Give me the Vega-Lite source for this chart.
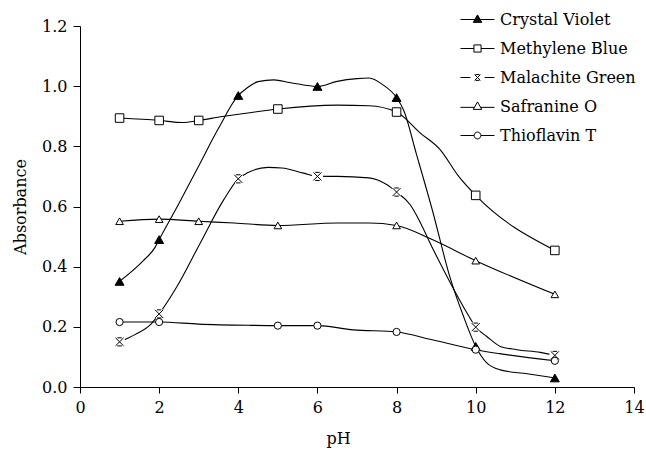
{
  "$schema": "https://vega.github.io/schema/vega-lite/v6.json",
  "width": 554,
  "height": 361,
  "autosize": {"type": "none"},
  "padding": {"left": 80, "top": 26, "right": 12, "bottom": 63},
  "background": "white",
  "config": {
    "view": {"stroke": null},
    "font": "DejaVu Serif",
    "axis": {
      "labelFont": "DejaVu Serif", "labelFontSize": 16, "labelColor": "black",
      "titleFont": "DejaVu Serif", "titleFontSize": 16, "titleFontWeight": "normal", "titleColor": "black",
      "domainColor": "black", "tickColor": "black", "grid": false, "domainWidth": 1, "tickWidth": 1
    },
    "legend": {
      "labelFont": "DejaVu Serif", "labelFontSize": 16, "labelColor": "black", "labelLimit": 300,
      "symbolStrokeColor": "black", "symbolStrokeWidth": 1, "symbolSize": 1156,
      "labelOffset": 5, "rowPadding": 3, "padding": 0
    }
  },
  "datasets": {
    "d": [
      {"dye": "Crystal Violet", "pH": 1, "A": 0.351, "m": 1},
      {"dye": "Crystal Violet", "pH": 1.6, "A": 0.42, "m": 0},
      {"dye": "Crystal Violet", "pH": 1.9, "A": 0.465, "m": 0},
      {"dye": "Crystal Violet", "pH": 2, "A": 0.49, "m": 1},
      {"dye": "Crystal Violet", "pH": 2.5, "A": 0.61, "m": 0},
      {"dye": "Crystal Violet", "pH": 3, "A": 0.735, "m": 0},
      {"dye": "Crystal Violet", "pH": 3.5, "A": 0.86, "m": 0},
      {"dye": "Crystal Violet", "pH": 4, "A": 0.969, "m": 1},
      {"dye": "Crystal Violet", "pH": 4.22, "A": 0.994, "m": 0},
      {"dye": "Crystal Violet", "pH": 4.5, "A": 1.015, "m": 0},
      {"dye": "Crystal Violet", "pH": 4.9, "A": 1.021, "m": 0},
      {"dye": "Crystal Violet", "pH": 5.3, "A": 1.012, "m": 0},
      {"dye": "Crystal Violet", "pH": 5.7, "A": 1.003, "m": 0},
      {"dye": "Crystal Violet", "pH": 6, "A": 0.999, "m": 1},
      {"dye": "Crystal Violet", "pH": 6.5, "A": 1.016, "m": 0},
      {"dye": "Crystal Violet", "pH": 7, "A": 1.025, "m": 0},
      {"dye": "Crystal Violet", "pH": 7.3, "A": 1.027, "m": 0},
      {"dye": "Crystal Violet", "pH": 7.65, "A": 1.005, "m": 0},
      {"dye": "Crystal Violet", "pH": 8, "A": 0.962, "m": 1},
      {"dye": "Crystal Violet", "pH": 8.18, "A": 0.92, "m": 0},
      {"dye": "Crystal Violet", "pH": 8.5, "A": 0.775, "m": 0},
      {"dye": "Crystal Violet", "pH": 8.9, "A": 0.59, "m": 0},
      {"dye": "Crystal Violet", "pH": 9.36, "A": 0.36, "m": 0},
      {"dye": "Crystal Violet", "pH": 9.69, "A": 0.235, "m": 0},
      {"dye": "Crystal Violet", "pH": 10, "A": 0.135, "m": 1},
      {"dye": "Crystal Violet", "pH": 10.28, "A": 0.08, "m": 0},
      {"dye": "Crystal Violet", "pH": 10.62, "A": 0.057, "m": 0},
      {"dye": "Crystal Violet", "pH": 11.3, "A": 0.044, "m": 0},
      {"dye": "Crystal Violet", "pH": 12, "A": 0.03, "m": 1},

      {"dye": "Methylene Blue", "pH": 1, "A": 0.894, "m": 1},
      {"dye": "Methylene Blue", "pH": 2, "A": 0.886, "m": 1},
      {"dye": "Methylene Blue", "pH": 2.6, "A": 0.879, "m": 0},
      {"dye": "Methylene Blue", "pH": 3, "A": 0.886, "m": 1},
      {"dye": "Methylene Blue", "pH": 3.6, "A": 0.899, "m": 0},
      {"dye": "Methylene Blue", "pH": 4.2, "A": 0.91, "m": 0},
      {"dye": "Methylene Blue", "pH": 5, "A": 0.924, "m": 1},
      {"dye": "Methylene Blue", "pH": 6.5, "A": 0.937, "m": 0},
      {"dye": "Methylene Blue", "pH": 7.3, "A": 0.935, "m": 0},
      {"dye": "Methylene Blue", "pH": 8, "A": 0.914, "m": 1},
      {"dye": "Methylene Blue", "pH": 8.6, "A": 0.844, "m": 0},
      {"dye": "Methylene Blue", "pH": 9.1, "A": 0.789, "m": 0},
      {"dye": "Methylene Blue", "pH": 9.57, "A": 0.7, "m": 0},
      {"dye": "Methylene Blue", "pH": 10, "A": 0.637, "m": 1},
      {"dye": "Methylene Blue", "pH": 12, "A": 0.454, "m": 1},

      {"dye": "Malachite Green", "pH": 1, "A": 0.15, "m": 1},
      {"dye": "Malachite Green", "pH": 1.4, "A": 0.175, "m": 0},
      {"dye": "Malachite Green", "pH": 1.8, "A": 0.21, "m": 0},
      {"dye": "Malachite Green", "pH": 2, "A": 0.243, "m": 1},
      {"dye": "Malachite Green", "pH": 2.45, "A": 0.334, "m": 0},
      {"dye": "Malachite Green", "pH": 3.04, "A": 0.479, "m": 0},
      {"dye": "Malachite Green", "pH": 3.63, "A": 0.622, "m": 0},
      {"dye": "Malachite Green", "pH": 4, "A": 0.692, "m": 1},
      {"dye": "Malachite Green", "pH": 4.22, "A": 0.711, "m": 0},
      {"dye": "Malachite Green", "pH": 4.75, "A": 0.73, "m": 0},
      {"dye": "Malachite Green", "pH": 5.1, "A": 0.728, "m": 0},
      {"dye": "Malachite Green", "pH": 5.65, "A": 0.711, "m": 0},
      {"dye": "Malachite Green", "pH": 6, "A": 0.7, "m": 1},
      {"dye": "Malachite Green", "pH": 6.5, "A": 0.7, "m": 0},
      {"dye": "Malachite Green", "pH": 7.3, "A": 0.695, "m": 0},
      {"dye": "Malachite Green", "pH": 7.76, "A": 0.672, "m": 0},
      {"dye": "Malachite Green", "pH": 8, "A": 0.648, "m": 1},
      {"dye": "Malachite Green", "pH": 8.35, "A": 0.605, "m": 0},
      {"dye": "Malachite Green", "pH": 8.52, "A": 0.567, "m": 0},
      {"dye": "Malachite Green", "pH": 8.93, "A": 0.456, "m": 0},
      {"dye": "Malachite Green", "pH": 9.36, "A": 0.346, "m": 0},
      {"dye": "Malachite Green", "pH": 9.78, "A": 0.246, "m": 0},
      {"dye": "Malachite Green", "pH": 10, "A": 0.199, "m": 1},
      {"dye": "Malachite Green", "pH": 10.28, "A": 0.168, "m": 0},
      {"dye": "Malachite Green", "pH": 10.62, "A": 0.135, "m": 0},
      {"dye": "Malachite Green", "pH": 11.04, "A": 0.124, "m": 0},
      {"dye": "Malachite Green", "pH": 11.63, "A": 0.115, "m": 0},
      {"dye": "Malachite Green", "pH": 12, "A": 0.105, "m": 1},

      {"dye": "Safranine O", "pH": 1, "A": 0.551, "m": 1},
      {"dye": "Safranine O", "pH": 2, "A": 0.558, "m": 1},
      {"dye": "Safranine O", "pH": 3, "A": 0.551, "m": 1},
      {"dye": "Safranine O", "pH": 3.9, "A": 0.545, "m": 0},
      {"dye": "Safranine O", "pH": 5, "A": 0.537, "m": 1},
      {"dye": "Safranine O", "pH": 6.5, "A": 0.545, "m": 0},
      {"dye": "Safranine O", "pH": 7.3, "A": 0.545, "m": 0},
      {"dye": "Safranine O", "pH": 8, "A": 0.537, "m": 1},
      {"dye": "Safranine O", "pH": 8.9, "A": 0.49, "m": 0},
      {"dye": "Safranine O", "pH": 10, "A": 0.42, "m": 1},
      {"dye": "Safranine O", "pH": 12, "A": 0.308, "m": 1},

      {"dye": "Thioflavin T", "pH": 1, "A": 0.216, "m": 1},
      {"dye": "Thioflavin T", "pH": 2, "A": 0.216, "m": 1},
      {"dye": "Thioflavin T", "pH": 3, "A": 0.209, "m": 0},
      {"dye": "Thioflavin T", "pH": 4.3, "A": 0.205, "m": 0},
      {"dye": "Thioflavin T", "pH": 5, "A": 0.204, "m": 1},
      {"dye": "Thioflavin T", "pH": 6, "A": 0.204, "m": 1},
      {"dye": "Thioflavin T", "pH": 6.9, "A": 0.19, "m": 0},
      {"dye": "Thioflavin T", "pH": 8, "A": 0.183, "m": 1},
      {"dye": "Thioflavin T", "pH": 8.9, "A": 0.157, "m": 0},
      {"dye": "Thioflavin T", "pH": 10, "A": 0.124, "m": 1},
      {"dye": "Thioflavin T", "pH": 10.6, "A": 0.111, "m": 0},
      {"dye": "Thioflavin T", "pH": 12, "A": 0.087, "m": 1}
    ]
  },
  "data": {"name": "d"},
  "encoding": {
    "x": {
      "field": "pH", "type": "quantitative",
      "scale": {"domain": [0, 14], "nice": false},
      "axis": {"title": "pH", "values": [0, 2, 4, 6, 8, 10, 12, 14], "tickSize": 6, "labelPadding": 6,
               "labelFlush": false, "labelOverlap": false, "titleX": 258, "titleY": 56, "titleBaseline": "alphabetic"}
    },
    "y": {
      "field": "A", "type": "quantitative",
      "scale": {"domain": [0, 1.2], "nice": false},
      "axis": {"title": "Absorbance", "values": [0, 0.2, 0.4, 0.6, 0.8, 1.0, 1.2], "format": ".1f", "tickSize": 7,
               "labelPadding": 6, "labelFlush": false, "labelOverlap": false, "titleX": -55, "titleY": 180.5, "titleBaseline": "alphabetic"}
    }
  },
  "layer": [
    {
      "mark": {"type": "line", "interpolate": "monotone", "color": "black", "strokeWidth": 1.1},
      "encoding": {"detail": {"field": "dye", "type": "nominal"}}
    },
    {
      "transform": [{"filter": "datum.m == 1 && datum.dye == 'Malachite Green'"}],
      "mark": {"type": "point", "shape": "circle", "filled": true, "color": "white", "opacity": 1, "size": 130},
      "encoding": {}
    },
    {
      "transform": [{"filter": "datum.m == 1"}],
      "mark": {"type": "point", "stroke": "black", "strokeWidth": 1, "opacity": 1},
      "encoding": {
        "shape": {"field": "dye", "type": "nominal", "legend": null,
          "scale": {"domain": ["Crystal Violet", "Methylene Blue", "Malachite Green", "Safranine O", "Thioflavin T"],
                    "range": ["triangle-up", "square", "M-1,-1L1,1M-1,1L1,-1M-0.55,-1H0.55M-0.55,1H0.55", "triangle-up", "circle"]}},
        "fill": {"field": "dye", "type": "nominal", "legend": null,
          "scale": {"domain": ["Crystal Violet", "Methylene Blue", "Malachite Green", "Safranine O", "Thioflavin T"],
                    "range": ["black", "white", "white", "white", "white"]}},
        "size": {"field": "dye", "type": "nominal", "legend": null,
          "scale": {"domain": ["Crystal Violet", "Methylene Blue", "Malachite Green", "Safranine O", "Thioflavin T"],
                    "range": [80, 52, 40, 80, 55]}}
      }
    },
    {
      "transform": [{"filter": "datum.m == 99"}],
      "mark": {"type": "point", "color": "black", "filled": false, "strokeWidth": 1, "opacity": 1},
      "encoding": {
        "shape": {"field": "dye", "type": "nominal",
          "scale": {"domain": ["Crystal Violet", "Methylene Blue", "Malachite Green", "Safranine O", "Thioflavin T"],
                    "range": [
                      "M-1,0H1M0,-0.27L0.25,0.17L-0.25,0.17ZM-0.023,-0.23H0.023M-0.045,-0.19H0.045M-0.068,-0.15H0.068M-0.091,-0.11H0.091M-0.114,-0.07H0.114M-0.136,-0.03H0.136M-0.159,0.01H0.159M-0.182,0.05H0.182M-0.205,0.09H0.205M-0.227,0.13H0.227",
                      "M-1,0H-0.21M0.21,0H1M-0.21,-0.21H0.21V0.21H-0.21Z",
                      "M-1,0H-0.42M0.42,0H1M-0.17,-0.17L0.17,0.17M-0.17,0.17L0.17,-0.17M-0.12,-0.17H0.12M-0.12,0.17H0.12",
                      "M-1,0.05H-0.18M0.18,0.05H1M0,-0.27L0.25,0.17L-0.25,0.17Z",
                      "M-1,0H-0.2M0.2,0H1M0.2,0A0.2,0.2,0,1,1,-0.2,0A0.2,0.2,0,1,1,0.2,0Z"
                    ]},
          "legend": {"title": null, "orient": "none", "legendX": 380, "legendY": -24,
                     "encode": {"symbols": {"update": {
                       "stroke": {"value": "black"},
                       "strokeWidth": {"value": 1}}}}}
        }
      }
    }
  ],
  "resolve": {"scale": {"shape": "independent", "fill": "independent", "size": "independent"}}
}
